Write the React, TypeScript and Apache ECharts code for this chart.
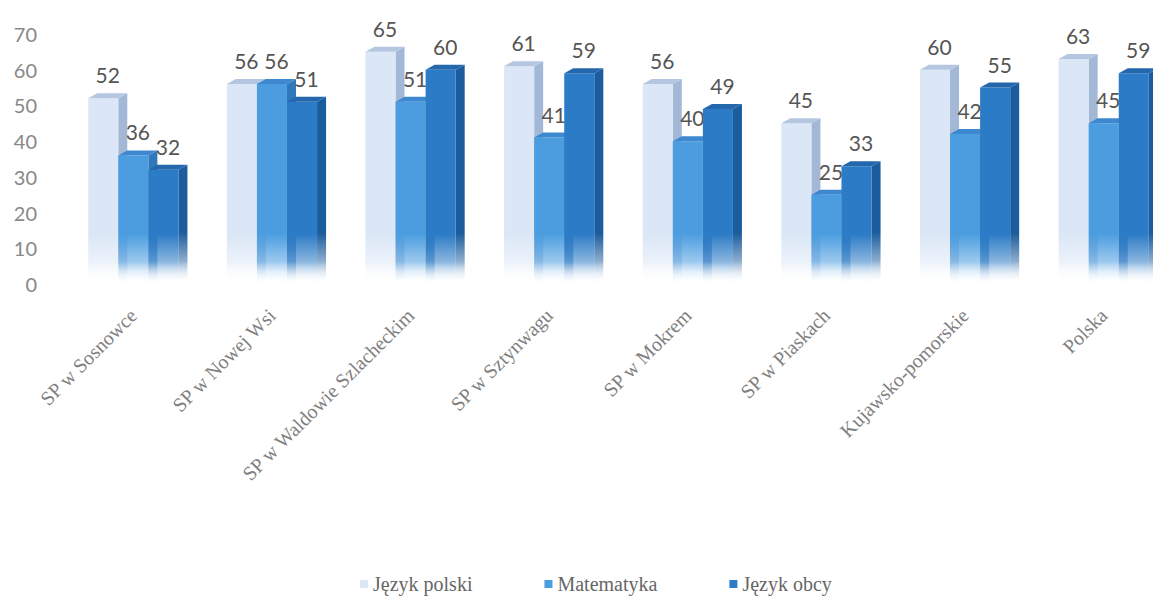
import React, { useEffect, useRef } from "react";
import * as echarts from "echarts";

const categories = [
  "SP w Sosnowce",
  "SP w Nowej Wsi",
  "SP w Waldowie Szlacheckim",
  "SP w Sztynwagu",
  "SP w Mokrem",
  "SP w Piaskach",
  "Kujawsko-pomorskie",
  "Polska",
];
const seriesNames = ["Język polski", "Matematyka", "Język obcy"];
const jezykPolski = [52, 56, 65, 61, 56, 45, 60, 63];
const matematyka = [36, 56, 51, 41, 40, 25, 42, 45];
const jezykObcy = [32, 51, 60, 59, 49, 33, 55, 59];
const yTicks = { min: 0, max: 70, interval: 10 };

const palette = [
  { front: "#dbe7f6", side: "#a3b8d6", top: "#b4c6e0" },
  { front: "#4c9de0", side: "#2f78bb", top: "#3d88cf" },
  { front: "#2c7bc6", side: "#1b5c9c", top: "#2567ad" },
];

export default function App() {
  const ref = useRef<HTMLDivElement>(null);
  useEffect(() => {
    document.body.style.margin = "0";
    document.body.style.overflow = "hidden";
    const chart = echarts.init(ref.current!, undefined, { renderer: "svg" });

    const makeSeries = (si: number, data: number[]) => {
      const pal = palette[si];
      return {
        name: seriesNames[si],
        type: "custom",
        data: data.map((v, i) => [i, v]),
        itemStyle: { color: pal.front },
        z: 2 + si,
        renderItem: (params: any, api: any) => {
          const idx = api.value(0);
          const val = api.value(1);
          const top = api.coord([idx, val]);
          const base = api.coord([idx, 0]);
          const band = api.size([1, 0])[0];
          const w = band * 0.217;
          const d = band * 0.065;
          const dy = 5;
          const x0 = top[0] - 1.5 * w + si * w;
          const yT = top[1];
          const yB = base[1];
          const h = Math.max(yB - yT, 1);
          const fadeStart = Math.max(0, (h - 50) / h);
          const fadeMid = Math.max(0, (h - 22) / h);
          const frontGrad = new echarts.graphic.LinearGradient(0, 0, 0, 1, [
            { offset: 0, color: pal.front },
            { offset: fadeStart, color: pal.front },
            { offset: fadeMid, color: echarts.color.modifyAlpha(pal.front, 0.55) },
            { offset: 1, color: "rgba(255,255,255,0)" },
          ]);
          const sideGrad = new echarts.graphic.LinearGradient(0, 0, 0, 1, [
            { offset: 0, color: pal.side },
            { offset: fadeStart, color: pal.side },
            { offset: fadeMid, color: echarts.color.modifyAlpha(pal.side, 0.5) },
            { offset: 1, color: "rgba(255,255,255,0)" },
          ]);
          return {
            type: "group",
            children: [
              {
                type: "polygon",
                shape: {
                  points: [
                    [x0 + w, yT],
                    [x0 + w + d, yT - dy],
                    [x0 + w + d, yB - dy],
                    [x0 + w, yB],
                  ],
                },
                style: { fill: sideGrad },
              },
              {
                type: "rect",
                shape: { x: x0, y: yT, width: w, height: h },
                style: { fill: frontGrad },
              },
              {
                type: "polygon",
                shape: {
                  points: [
                    [x0, yT],
                    [x0 + d, yT - dy],
                    [x0 + w + d, yT - dy],
                    [x0 + w, yT],
                  ],
                },
                style: { fill: pal.top },
              },
              {
                type: "text",
                style: {
                  text: String(val),
                  x: x0 + w / 2 + d / 2,
                  y: yT - dy - 8,
                  align: "center",
                  verticalAlign: "bottom",
                  fill: "#555",
                  font: "21px Lato, sans-serif",
                },
              },
            ],
          };
        },
      };
    };

    chart.setOption({
      animation: false,
      backgroundColor: "#ffffff",
      legend: {
        top: 569,
        left: 355,
        icon: "rect",
        itemWidth: 8,
        itemHeight: 8,
        itemGap: 72,
        textStyle: { color: "#666", fontSize: 20, fontFamily: "Liberation Serif, serif" },
        data: seriesNames,
      },
      grid: {
        left: 64,
        right: -20,
        top: 34,
        bottom: 318,
        containLabel: false,
        outerBoundsMode: "none",
      },
      xAxis: {
        type: "category",
        data: categories,
        axisLine: { show: false },
        axisTick: { show: false },
        splitLine: { show: false },
        axisLabel: {
          rotate: 45,
          interval: 0,
          margin: 28,
          color: "#808080",
          fontSize: 20,
          fontFamily: "Liberation Serif, serif",
        },
      },
      yAxis: {
        type: "value",
        min: yTicks.min,
        max: yTicks.max,
        interval: yTicks.interval,
        axisLine: { show: false },
        axisTick: { show: false },
        splitLine: { show: false },
        axisLabel: {
          color: "#888",
          fontSize: 20,
          margin: 27,
          fontFamily: "Lato, sans-serif",
        },
      },
      series: [
        makeSeries(0, jezykPolski),
        makeSeries(1, matematyka),
        makeSeries(2, jezykObcy),
      ],
    });
    return () => chart.dispose();
  }, []);
  return <div ref={ref} style={{ width: 1153, height: 602 }} />;
}
